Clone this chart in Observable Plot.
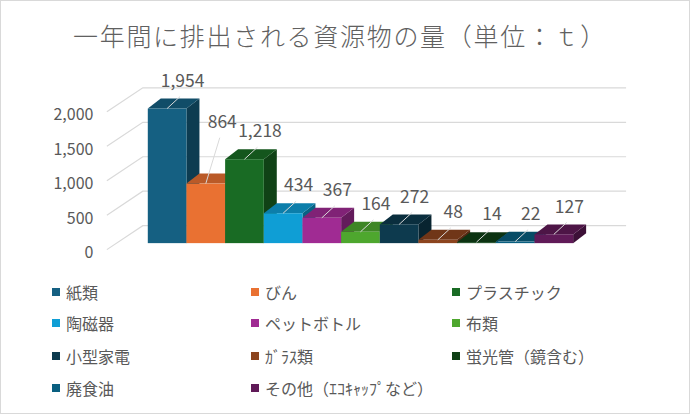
<!DOCTYPE html>
<html><head><meta charset="utf-8">
<script src="https://cdn.jsdelivr.net/npm/d3@7"></script>
<script src="https://cdn.jsdelivr.net/npm/@observablehq/plot@0.6"></script>
<style>
body{margin:0;background:#fff;}
#wrap{position:relative;width:690px;height:414px;box-sizing:border-box;border:1px solid #d9d9d9;overflow:hidden;font-family:"Noto Sans CJK JP","Noto Sans",sans-serif;color:#595959;background:#fff;}
#title{position:absolute;left:0;top:21px;width:678px;text-align:center;font-size:25px;line-height:26px;font-weight:300;letter-spacing:1.7px;white-space:nowrap;color:#606060;}
#chart{position:absolute;left:-1px;top:-1px;}
.lg{position:absolute;font-size:16px;line-height:20px;white-space:nowrap;display:flex;align-items:center;}
.lg i{display:inline-block;width:8px;height:8px;margin-right:6px;}
</style></head><body>
<div id="wrap"><div id="title"></div><div id="chart"></div></div>
<script>
const titleText = "一年間に排出される資源物の量（単位：ｔ）";
const categories = ["紙類","びん","プラスチック","陶磁器","ペットボトル","布類","小型家電","ｶﾞﾗｽ類","蛍光管（鏡含む）","廃食油","その他（ｴｺｷｬｯﾌﾟなど）"];
const values = [1954, 864, 1218, 434, 367, 164, 272, 48, 14, 22, 127];
const colors = ["#156082","#E97132","#196B24","#0F9ED5","#A02B93","#4EA72E","#0D3A4E","#8C441E","#0F4016","#095F80","#601A58"];
const yTicks = [0, 500, 1000, 1500, 2000];
const tickLabels = ["0","500","1,000","1,500","2,000"];

const data = categories.map((c, i) => ({category: c, value: values[i], color: colors[i]}));

// layout constants (pixels)
const DEPTH_X = 13, DEPTH_Y = -10;
const LABEL_DX = 15, LABEL_DY = -28;
const labelShift = {"びん": [1, -34]};

document.getElementById("title").textContent = titleText;

function shade(c, k) {
  const o = d3.rgb(c);
  return d3.rgb(o.r * k, o.g * k, o.b * k).formatHex();
}
function getScales(args) {
  for (const a of args) if (a && typeof a.x === "function" && typeof a.y === "function") return a;
  for (const a of args) if (a && a.scales && typeof a.scales.x === "function") return a.scales;
  return null;
}

const gridMark = (...args) => {
  const {x, y} = getScales(args);
  const x0 = x(categories[0]);
  const xEnd = x(categories[categories.length - 1]) + x.bandwidth();
  const g = d3.create("svg:g").attr("stroke", "#d9d9d9").attr("stroke-width", 1.2).attr("fill", "none");
  for (const t of yTicks) {
    const yy = y(t);
    g.append("path").attr("d", `M${x0 - 41},${yy + 6.5}L${x0 - 5},${yy - 17.5}L${xEnd + 53},${yy - 17.5}`);
  }
  return g.node();
};

const boxMark = (...args) => {
  const {x, y} = getScales(args);
  const bw = x.bandwidth();
  const g = d3.create("svg:g");
  data.forEach(d => {
    const l = x(d.category), r = l + bw, t = y(d.value), b = y(0);
    g.append("path").attr("fill", shade(d.color, 0.62))
      .attr("d", `M${r},${b}L${r + DEPTH_X},${b + DEPTH_Y}L${r + DEPTH_X},${t + DEPTH_Y}L${r},${t}Z`);
    g.append("path").attr("fill", shade(d.color, 0.8))
      .attr("d", `M${l},${t}L${r},${t}L${r + DEPTH_X},${t + DEPTH_Y}L${l + DEPTH_X},${t + DEPTH_Y}Z`);
  });
  return g.node();
};

const leaderMark = (...args) => {
  const {x, y} = getScales(args);
  const bw = x.bandwidth();
  const g = d3.create("svg:g").attr("stroke", "#d9d9d9").attr("stroke-width", 1);
  data.forEach(d => {
    const s = labelShift[d.category] || [0, 0];
    const cx = x(d.category) + bw / 2, t = y(d.value);
    const lx = cx + LABEL_DX + s[0], ly = t + LABEL_DY + s[1];
    g.append("line").attr("x1", cx).attr("y1", t).attr("x2", lx - 2).attr("y2", ly + 16);
  });
  return g.node();
};

const plot = Plot.plot({
  width: 690,
  height: 270,
  marginLeft: 148,
  marginRight: 116,
  marginTop: 105.5,
  marginBottom: 26.5,
  style: {fontFamily: '"Noto Sans CJK JP","Noto Sans",sans-serif', background: "transparent", overflow: "visible"},
  x: {domain: categories, padding: 0, round: false, axis: null},
  y: {domain: [0, 2000], axis: null},
  color: {domain: categories, range: colors},
  marks: [
    gridMark,
    Plot.text(yTicks, {y: d => d, text: (d, i) => tickLabels[i], frameAnchor: "left", dx: -55, dy: 9.5, textAnchor: "end", fontSize: 16, fill: "#595959"}),
    boxMark,
    Plot.barY(data, {x: "category", y: "value", fill: "category"}),
    leaderMark,
    Plot.text(data, {
      x: "category", y: "value",
      text: d => d3.format(",")(d.value),
      dx: LABEL_DX, dy: LABEL_DY,
      fontSize: 17.5, fill: "#595959"
    })
  ]
});
document.getElementById("chart").appendChild(plot);
// per-label nudges for manually placed labels
{
  const texts = plot.querySelectorAll("g[aria-label='text']");
  const lab = texts[texts.length - 1];
  if (lab) {
    lab.querySelectorAll("text").forEach((el, i) => {
      const s = labelShift[categories[i]];
      if (s) {
        const tr = el.getAttribute("transform") || "";
        el.setAttribute("transform", tr + ` translate(${s[0]},${s[1]})`);
      }
    });
  }
}

// legend
const wrap = document.getElementById("wrap");
const colX = [52, 251, 452];
const rowY = [292, 323, 356, 388];
categories.forEach((c, i) => {
  const el = document.createElement("div");
  el.className = "lg";
  el.style.left = (colX[i % 3] - 1) + "px";
  el.style.top = (rowY[Math.floor(i / 3)] - 11) + "px";
  const sw = document.createElement("i");
  sw.style.background = colors[i];
  el.appendChild(sw);
  el.appendChild(document.createTextNode(c));
  wrap.appendChild(el);
});
</script>
</body></html>
